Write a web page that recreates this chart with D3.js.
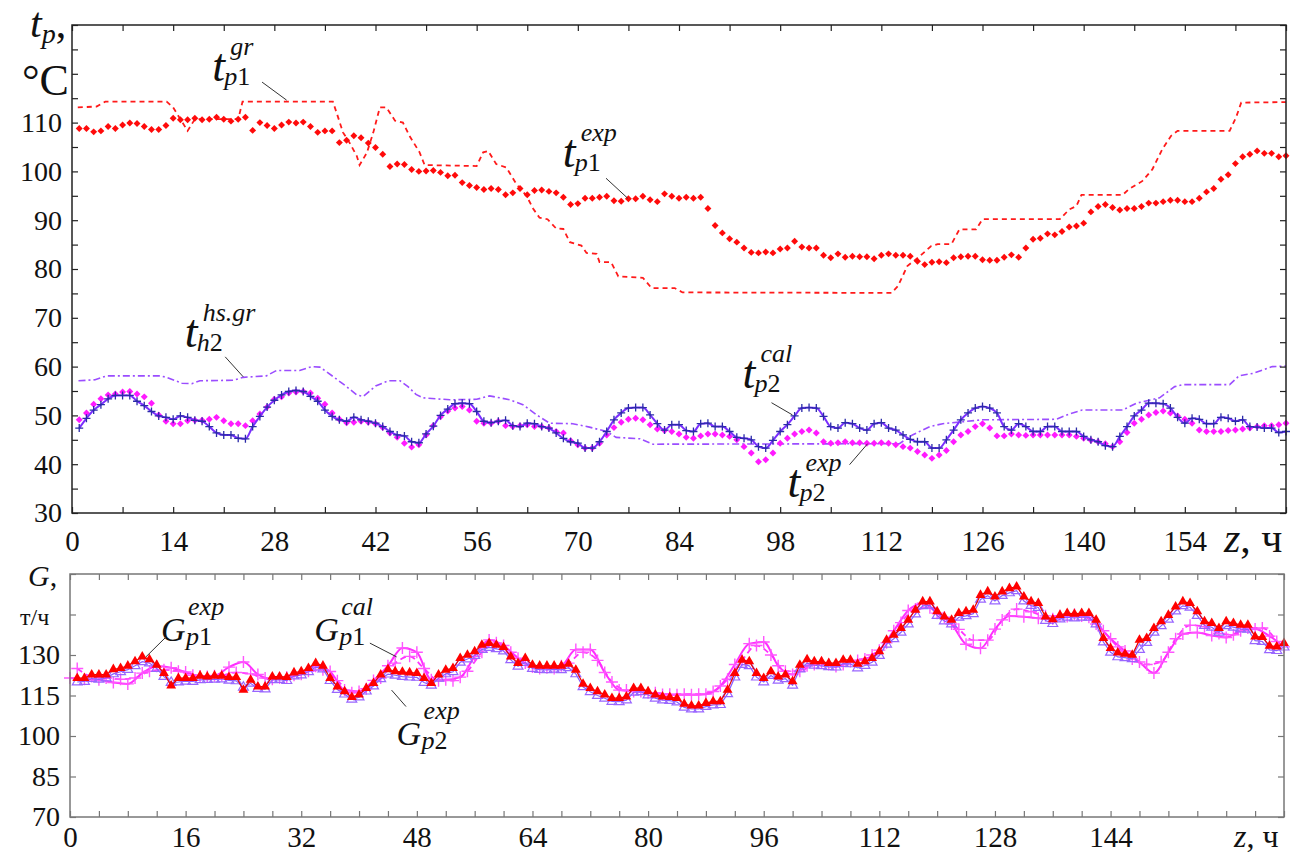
<!DOCTYPE html>
<html>
<head>
<meta charset="utf-8">
<script src="https://cdn.jsdelivr.net/npm/d3@7"></script>
<style>
  body { margin: 0; background: #fff; }
  svg { display: block; }
  svg text { font-family: 'Liberation Serif', 'DejaVu Serif', serif; }
</style>
</head>
<body>
<svg id="chart" width="1295" height="854"></svg>
<script>
/* global d3 */

// ---------- data: top panel (temperatures, degC), hourly h = 1..168 ----------
const expHours = d3.range(1, 169);

const tp1Exp = [
  108.8, 108.8, 108.1, 108.3, 109.2, 108.8, 109.5, 109.9, 109.8, 109.2,
  108.6, 108.6, 109.4, 110.9, 110.6, 110.6, 110.9, 110.6, 110.7, 111.1,
  110.7, 110.3, 110.7, 111.1, 108.4, 110.0, 109.4, 108.8, 109.5, 110.1,
  109.9, 110.1, 109.2, 108.0, 108.3, 108.3, 105.9, 106.4, 107.3, 106.9,
  105.8, 104.9, 103.5, 101.0, 101.5, 101.4, 100.4, 100.0, 100.1, 100.2,
  99.8, 99.1, 99.2, 97.7, 97.1, 96.7, 96.3, 96.5, 96.3, 95.2,
  95.6, 96.5, 95.2, 96.1, 96.2, 95.9, 95.6, 94.7, 93.2, 93.4,
  94.5, 94.5, 94.7, 94.9, 94.0, 93.9, 94.4, 94.4, 94.9, 94.2,
  93.8, 95.4, 94.9, 94.5, 94.7, 94.5, 94.7, 92.4, 88.9, 87.4,
  86.2, 85.5, 84.3, 83.4, 83.3, 83.5, 83.3, 84.1, 84.3, 85.7,
  84.5, 84.3, 84.3, 82.8, 82.3, 83.1, 82.4, 82.6, 82.5, 82.5,
  82.1, 82.8, 83.1, 82.8, 82.8, 82.6, 81.6, 80.9, 81.4, 81.5,
  81.3, 82.3, 82.5, 82.6, 82.6, 81.9, 81.8, 81.8, 82.4, 82.9,
  82.4, 84.3, 86.1, 86.3, 87.2, 87.0, 87.7, 88.6, 88.8, 89.4,
  91.7, 92.8, 93.2, 92.6, 92.1, 92.4, 92.4, 92.8, 93.5, 93.5,
  93.8, 94.1, 94.1, 93.8, 93.8, 94.5, 95.8, 96.5, 98.4, 99.3,
  101.6, 103.0, 103.5, 104.2, 103.7, 103.7, 103.0, 103.2
];

const tp2Exp = [
  49.1, 50.5, 52.3, 53.4, 54.2, 54.4, 54.8, 54.9, 54.4, 53.8,
  52.5, 50.1, 48.8, 48.3, 48.3, 48.9, 49.0, 49.0, 49.2, 49.6,
  48.9, 48.3, 48.3, 47.9, 48.9, 50.3, 51.7, 53.3, 53.8, 54.6,
  54.8, 54.9, 54.6, 53.5, 52.3, 50.5, 49.2, 48.5, 48.6, 48.8,
  48.6, 48.3, 47.5, 46.4, 45.5, 44.3, 43.5, 44.0, 46.0, 47.9,
  49.7, 50.9, 51.5, 51.8, 51.1, 48.8, 48.4, 48.4, 48.8, 47.9,
  47.7, 47.9, 48.1, 47.7, 47.7, 47.4, 46.7, 46.4, 44.8, 44.0,
  43.3, 43.3, 44.3, 46.0, 47.5, 48.6, 49.2, 49.4, 49.1, 48.1,
  47.2, 46.9, 46.7, 46.2, 45.5, 45.3, 45.8, 46.2, 46.2, 46.0,
  45.7, 45.0, 43.6, 42.3, 40.5, 40.9, 42.3, 44.3, 45.3, 46.2,
  46.7, 47.0, 46.4, 44.6, 44.3, 44.4, 44.6, 44.4, 44.4, 44.3,
  44.3, 44.4, 44.3, 44.0, 43.6, 43.3, 42.6, 41.9, 41.2, 41.9,
  42.8, 44.6, 46.0, 46.7, 47.7, 48.3, 47.4, 45.8, 45.8, 46.2,
  46.0, 45.9, 46.0, 46.0, 46.0, 46.0, 46.0, 46.0, 45.7, 45.3,
  44.9, 44.6, 44.2, 43.6, 44.6, 46.5, 48.4, 49.2, 50.1, 50.6,
  50.9, 50.5, 49.9, 49.2, 48.4, 47.0, 46.7, 46.7, 46.7, 46.9,
  47.0, 47.2, 47.4, 47.7, 47.9, 47.9, 48.1, 48.4
];

const tp2Cal = [
  47.4, 49.4, 51.1, 52.2, 53.4, 54.1, 54.1, 54.1, 52.9, 52.0,
  50.8, 49.9, 49.6, 49.2, 49.9, 49.6, 49.0, 48.8, 47.7, 46.4,
  46.0, 46.0, 45.3, 45.2, 47.7, 49.8, 51.7, 53.1, 54.2, 54.9,
  55.1, 54.9, 53.9, 52.9, 51.1, 49.8, 49.1, 48.8, 49.6, 49.1,
  48.8, 48.4, 47.7, 46.7, 46.0, 45.8, 44.6, 44.4, 46.2, 47.8,
  50.0, 51.3, 52.4, 52.5, 52.4, 50.8, 48.8, 48.5, 48.8, 49.0,
  47.9, 47.7, 48.4, 48.3, 47.7, 47.4, 46.4, 45.3, 44.6, 44.3,
  43.3, 43.3, 44.6, 46.7, 49.1, 50.5, 51.5, 51.6, 51.6, 50.1,
  48.3, 47.0, 48.1, 48.1, 46.9, 46.7, 48.3, 48.4, 47.7, 47.7,
  46.7, 45.5, 45.3, 45.0, 43.6, 43.3, 44.9, 46.7, 48.1, 49.9,
  51.5, 51.6, 51.5, 49.8, 47.7, 47.4, 48.5, 48.3, 47.4, 47.0,
  48.3, 48.5, 47.4, 47.0, 46.0, 45.1, 44.6, 44.6, 43.3, 43.3,
  45.0, 47.0, 49.1, 50.5, 51.5, 51.8, 51.5, 50.5, 47.7, 47.0,
  48.3, 47.7, 46.7, 46.7, 47.7, 47.7, 46.7, 46.7, 46.7, 45.7,
  45.0, 44.6, 43.8, 43.6, 45.7, 47.7, 49.9, 51.1, 52.5, 52.5,
  52.4, 51.5, 49.6, 48.4, 49.4, 49.2, 48.3, 48.3, 49.6, 49.4,
  48.8, 49.1, 47.7, 47.6, 47.4, 47.4, 46.5, 46.7
];

// schedule curve t_p1^gr (break points)
const grHours = [0.8, 3.4, 4.6, 13.1, 14, 15, 16, 17, 23, 23.6, 36.1, 36.6, 37.5, 38.4, 39.4, 39.8,
  40.8, 41.7, 42.6, 43.5, 44.7, 45.8, 46.7, 48.1, 48.8, 56, 56.9, 57.6, 58.7, 60.1, 61.5, 62.9,
  63.8, 64.7, 65.8, 67, 68, 68.9, 70.5, 71.2, 72.6, 73, 74.6, 75.6, 79, 80.2, 83.4, 84.5, 113.4,
  114.3, 115.6, 117.3, 118.9, 119.8, 121.7, 122.8, 125.1, 126, 136.7, 138, 139, 139.7, 145.4,
  146.3, 148.1, 149.5, 150.9, 152.1, 153, 160.2, 161.1, 161.8, 168];
const grValues = [113.1, 113.3, 114.3, 114.3, 113.1, 110.7, 108.3, 110.7, 110.7, 114.3, 114.3, 112.1,
  108.0, 105.9, 103.2, 101.3, 103.8, 108.0, 113.1, 113.1, 110.4, 110.0, 107.3, 103.9, 101.3, 101.1,
  103.9, 104.2, 101.5, 100.8, 97.4, 95.0, 92.4, 90.5, 90.2, 88.3, 88.2, 85.5, 84.8, 83.3, 83.1,
  81.4, 81.4, 78.5, 78.2, 76.1, 76.1, 75.2, 75.1, 76.5, 80.6, 82.6, 84.7, 85.1, 85.1, 88.1, 88.1,
  90.2, 90.2, 92.2, 92.9, 95.2, 95.2, 96.4, 98.0, 100.4, 104.6, 107.3, 108.3, 108.3, 111.1, 114.1,
  114.2];

// schedule curve t_h2^hs.gr (break points)
const hsHours = [0.9, 3.2, 4.8, 12.2, 13.1, 15.2, 16.6, 17.7, 22.3, 23.7, 26.9, 28.3, 31.5, 33.2,
  34.3, 36.1, 38, 39.4, 40.3, 42.1, 43.8, 45.4, 46.5, 47.6, 48.6, 52.3, 56, 57.8, 60.6, 62.4, 64.3,
  66.1, 69.3, 71.6, 74, 75.3, 78.6, 80.4, 114.5, 116.3, 118.7, 120.5, 126, 136.2, 138, 139.8,
  145.4, 147.3, 150.5, 152.6, 153.7, 160.2, 161.5, 163.4, 166.1, 168];
const hsValues = [57.1, 57.3, 58.1, 58.1, 57.8, 56.6, 56.5, 57.1, 57.2, 57.8, 58.1, 59.2, 59.2, 60.0,
  59.9, 58.0, 55.9, 54.2, 53.9, 56.1, 57.1, 57.1, 55.9, 54.3, 53.6, 53.2, 53.3, 54.0, 53.2, 52.2,
  50.1, 48.4, 48.3, 47.6, 46.7, 45.5, 45.2, 44.1, 44.2, 46.0, 47.7, 48.3, 49.1, 49.2, 50.3, 51.1,
  51.1, 52.5, 53.6, 55.9, 56.3, 56.3, 58.1, 58.6, 60.0, 60.1];

// ---------- data: bottom panel (flow, t/h) ----------
const gp1Exp = [
  121.4, 121.4, 122.7, 122.7, 122.7, 124.7, 125.1, 126.0, 127.6, 129.4,
  128.4, 126.3, 123.3, 118.6, 121.4, 121.4, 121.4, 122.3, 122.0, 122.3,
  122.3, 121.8, 121.8, 117.1, 120.8, 118.3, 118.3, 122.0, 122.0, 121.8,
  123.5, 123.9, 125.1, 127.0, 126.0, 121.4, 118.3, 116.5, 114.4, 115.3,
  117.7, 119.6, 122.7, 124.7, 123.9, 123.7, 123.5, 123.3, 121.4, 119.6,
  122.7, 124.5, 125.1, 128.8, 130.0, 131.3, 133.7, 134.4, 133.7, 132.9,
  129.4, 127.0, 128.8, 126.3, 126.0, 126.0, 126.0, 126.0, 126.7, 124.5,
  119.3, 117.7, 116.5, 115.3, 114.0, 114.0, 114.6, 117.7, 117.7, 116.5,
  115.3, 114.6, 114.4, 114.0, 111.9, 111.2, 111.2, 112.2, 112.8, 112.8,
  117.1, 123.3, 128.2, 127.6, 123.3, 121.4, 123.9, 122.0, 122.7, 120.2,
  126.3, 128.4, 127.6, 127.6, 127.0, 127.0, 128.2, 128.2, 126.7, 127.6,
  128.8, 131.3, 135.6, 137.4, 139.9, 143.0, 146.7, 149.8, 149.8, 146.1,
  144.2, 143.0, 145.5, 146.1, 146.7, 152.2, 153.5, 151.6, 153.5, 154.7,
  155.3, 151.6, 149.8, 149.2, 144.2, 143.2, 144.8, 145.5, 145.2, 145.5,
  145.5, 143.0, 136.2, 132.5, 130.9, 130.4, 130.0, 135.6, 136.2, 139.9,
  142.4, 144.8, 147.9, 149.8, 149.2, 146.1, 142.4, 141.8, 139.9, 142.4,
  141.8, 141.1, 141.1, 136.8, 136.6, 133.4, 133.1, 134.4
];

const gp2Exp = [
  120.0, 120.2, 121.3, 121.0, 121.5, 123.0, 123.8, 124.6, 126.0, 127.5,
  127.0, 125.0, 122.0, 119.8, 120.0, 120.3, 120.2, 120.8, 120.9, 121.0,
  121.1, 120.6, 120.4, 118.0, 119.5, 117.6, 117.4, 120.8, 120.9, 120.5,
  122.2, 122.6, 123.8, 125.5, 124.8, 120.5, 117.2, 115.5, 113.6, 114.4,
  116.6, 118.5, 121.2, 122.9, 122.5, 122.0, 121.8, 121.7, 119.8, 118.8,
  121.4, 123.0, 123.8, 127.3, 128.5, 129.8, 132.0, 132.8, 132.3, 131.5,
  128.2, 125.8, 127.2, 125.0, 124.6, 124.5, 124.7, 124.5, 125.3, 123.0,
  118.2, 116.4, 115.0, 114.0, 112.8, 112.7, 113.3, 116.2, 116.4, 115.2,
  114.0, 113.3, 113.1, 112.6, 110.6, 110.0, 110.0, 110.9, 111.5, 111.6,
  115.6, 121.8, 126.5, 126.0, 121.8, 120.0, 122.4, 120.6, 121.2, 118.8,
  124.8, 127.0, 126.2, 126.0, 125.6, 125.5, 126.8, 126.7, 125.2, 126.1,
  127.3, 129.8, 134.0, 136.0, 138.4, 141.5, 145.2, 148.2, 148.4, 144.6,
  142.6, 141.5, 144.0, 144.5, 145.3, 150.6, 152.0, 150.0, 152.0, 153.0,
  153.8, 150.0, 148.3, 147.6, 142.8, 141.6, 143.3, 144.0, 143.7, 144.0,
  144.0, 141.5, 134.8, 131.0, 129.3, 129.0, 128.6, 132.0, 134.6, 138.4,
  140.8, 143.2, 146.3, 148.2, 147.7, 144.6, 140.9, 140.3, 138.4, 140.8,
  140.3, 139.6, 139.5, 135.3, 135.0, 131.9, 131.6, 132.9
];

// calculated flows, read every 2 hours
const calEvenHours = d3.range(0, 169, 2);
const gp1Cal = [
  121.5, 121.0, 120.8, 119.8, 119.3, 123.3, 125.8, 125.3, 123.7, 122.2,
  122.3, 125.5, 127.4, 122.8, 121.0, 121.8, 122.9, 125.8, 123.9, 117.0,
  116.5, 120.6, 126.0, 132.6, 131.0, 120.8, 120.8, 121.8, 129.5, 135.6,
  133.5, 128.8, 125.6, 125.3, 126.0, 132.0, 132.0, 123.5, 117.0, 116.5,
  116.0, 115.4, 115.3, 115.3, 115.5, 118.5, 126.5, 134.2, 134.8, 126.0,
  122.8, 126.0, 127.0, 125.7, 127.6, 128.5, 131.8, 139.0, 146.5, 149.2,
  145.5, 141.5, 134.0, 132.5, 139.6, 144.4, 144.2, 143.6, 143.4, 144.3,
  144.4, 141.5, 136.0, 131.5, 127.4, 123.3, 131.0, 137.8, 138.3, 137.2,
  136.5, 139.0, 139.6, 137.0, 133.0
];
const calOddHours = d3.range(1, 168, 2);
const gp2Cal = [
  125.0, 122.0, 121.5, 121.0, 121.5, 124.0, 124.5, 124.0, 122.5, 122.0,
  122.5, 123.5, 123.0, 121.5, 121.5, 122.5, 124.0, 124.5, 120.5, 116.0,
  117.5, 121.5, 127.0, 129.5, 125.0, 120.5, 120.5, 124.0, 131.0, 134.5,
  131.0, 127.0, 125.0, 125.0, 127.0, 131.0, 128.0, 120.0, 117.0, 116.5,
  116.0, 115.5, 115.5, 115.5, 116.5, 121.0, 128.0, 133.5, 130.0, 124.0,
  124.0, 126.5, 126.5, 126.5, 128.0, 130.0, 134.5, 142.0, 147.0, 147.5,
  144.0, 139.5, 135.5, 135.5, 143.0, 147.0, 146.0, 144.5, 144.5, 145.0,
  144.0, 139.0, 133.0, 128.5, 126.5, 127.5, 136.0, 141.0, 140.5, 138.0,
  137.5, 140.0, 140.0, 135.0
];

// ---------- ticks ----------
const topXTicks = d3.range(0, 169, 7);
const topXLabels = d3.range(0, 155, 14);
const topYTicks = d3.range(30, 131, 5);
const topYLabels = d3.range(30, 111, 10);
const botXTicks = d3.range(0, 169, 4);
const botXLabels = d3.range(0, 145, 16);
const botYTicks = d3.range(70, 161, 15);
const botYLabels = [70, 85, 100, 115, 130];

// ---------- drawing ----------
const svg = d3.select('#chart');

const xT = d3.scaleLinear().domain([0, 168]).range([72, 1286]);
const yT = d3.scaleLinear().domain([30, 130]).range([513, 25]);
const xB = d3.scaleLinear().domain([0, 168]).range([70, 1284]);
const yB = d3.scaleLinear().domain([70, 160]).range([817, 574]);

const zip = (xs, ys) => xs.map((h, i) => [h, ys[i]]);

const drawAxes = (x, y, o) => {
  const [x0, x1] = x.range();
  const [y0, y1] = y.range();
  const style = size => sel => {
    sel.attr('font-family', null);
    sel.select('.domain').remove();
    sel.selectAll('.tick line').attr('stroke', o.color).attr('stroke-width', 1.2);
    sel.selectAll('text').attr('font-size', size).attr('fill', '#111');
  };
  svg.append('g').attr('transform', `translate(0,${y0})`)
    .call(d3.axisBottom(x).tickValues(o.xTicks).tickSize(-6).tickPadding(o.xPad)
      .tickFormat(d => (o.xLabels.includes(d) ? d : '')))
    .call(style(o.xFont));
  svg.append('g').attr('transform', `translate(0,${y1})`)
    .call(d3.axisTop(x).tickValues(o.xTicks).tickSize(-6).tickFormat(''))
    .call(style(o.xFont));
  svg.append('g').attr('transform', `translate(${x0},0)`)
    .call(d3.axisLeft(y).tickValues(o.yTicks).tickSize(-6).tickPadding(10)
      .tickFormat(d => (o.yLabels.includes(d) ? d : '')))
    .call(style(o.yFont));
  svg.append('g').attr('transform', `translate(${x1},0)`)
    .call(d3.axisRight(y).tickValues(o.yTicks).tickSize(-6).tickFormat(''))
    .call(style(o.yFont));
  svg.append('rect')
    .attr('x', x0).attr('y', y1).attr('width', x1 - x0).attr('height', y0 - y1)
    .attr('fill', 'none').attr('stroke', o.color).attr('stroke-width', 1.5);
};

const plus = s => `M${-s},0H${s}M0,${-s}V${s}`;

/* TOP PANEL */
const lineT = d3.line().x(d => xT(d[0])).y(d => yT(d[1]));
const lineTs = d3.line().x(d => xT(d[0])).y(d => yT(d[1])).curve(d3.curveMonotoneX);
const topG = svg.append('g');

topG.append('path').datum(zip(grHours, grValues))
  .attr('d', lineT).attr('fill', 'none')
  .attr('stroke', '#ff1a1a').attr('stroke-width', 1.8).attr('stroke-dasharray', '5,4');

topG.append('path').datum(zip(hsHours, hsValues))
  .attr('d', lineT).attr('fill', 'none')
  .attr('stroke', '#9b4dff').attr('stroke-width', 1.6).attr('stroke-dasharray', '7,3,2,3');

const diamond = d3.symbol(d3.symbolSquare, 24)();

topG.append('g').selectAll('path')
  .data(zip(expHours, tp2Exp)).join('path')
  .attr('d', diamond).attr('fill', '#ff1aff')
  .attr('transform', d => `translate(${xT(d[0])},${yT(d[1])}) rotate(45)`);

topG.append('path').datum(zip(expHours, tp2Cal))
  .attr('d', lineTs).attr('fill', 'none')
  .attr('stroke', '#7a2eff').attr('stroke-width', 2);

topG.append('g').selectAll('path')
  .data(zip(expHours, tp2Cal)).join('path')
  .attr('d', plus(4)).attr('stroke', '#2b2ba8').attr('stroke-width', 1.3)
  .attr('transform', d => `translate(${xT(d[0])},${yT(d[1])})`);

topG.append('g').selectAll('path')
  .data(zip(expHours, tp1Exp)).join('path')
  .attr('d', diamond).attr('fill', '#ff0a0a')
  .attr('transform', d => `translate(${xT(d[0])},${yT(d[1])}) rotate(45)`);

drawAxes(xT, yT, {
  xTicks: topXTicks, xLabels: topXLabels, yTicks: topYTicks, yLabels: topYLabels,
  color: '#222', xFont: 29, yFont: 28, xPad: 17,
});

/* BOTTOM PANEL */
const lineB = d3.line().x(d => xB(d[0])).y(d => yB(d[1])).curve(d3.curveMonotoneX);
const botG = svg.append('g');

botG.append('path').datum(zip(calOddHours, gp2Cal))
  .attr('d', lineB).attr('fill', 'none')
  .attr('stroke', '#ff33ff').attr('stroke-width', 1.8).attr('stroke-dasharray', '6,4');
botG.append('path').datum(zip(calEvenHours, gp1Cal))
  .attr('d', lineB).attr('fill', 'none')
  .attr('stroke', '#ff2eff').attr('stroke-width', 2);

botG.append('g').selectAll('path')
  .data(zip(calEvenHours, gp1Cal).concat(zip(calOddHours, gp2Cal))).join('path')
  .attr('d', plus(6)).attr('stroke', '#ff55ff').attr('stroke-width', 1.4)
  .attr('transform', d => `translate(${xB(d[0])},${yB(d[1])})`);

const lineBL = d3.line().x(d => xB(d[0])).y(d => yB(d[1]));
const tri = d3.symbol(d3.symbolTriangle, 42)();

botG.append('path').datum(zip(expHours, gp2Exp))
  .attr('d', lineBL).attr('fill', 'none').attr('stroke', '#8a5cff').attr('stroke-width', 1.2);
botG.append('g').selectAll('path')
  .data(zip(expHours, gp2Exp)).join('path')
  .attr('d', tri).attr('fill', 'none').attr('stroke', '#9966ff').attr('stroke-width', 1.2)
  .attr('transform', d => `translate(${xB(d[0])},${yB(d[1])})`);

botG.append('path').datum(zip(expHours, gp1Exp))
  .attr('d', lineBL).attr('fill', 'none').attr('stroke', '#e60000').attr('stroke-width', 1.2);
botG.append('g').selectAll('path')
  .data(zip(expHours, gp1Exp)).join('path')
  .attr('d', tri).attr('fill', '#ff0000')
  .attr('transform', d => `translate(${xB(d[0])},${yB(d[1])})`);

drawAxes(xB, yB, {
  xTicks: botXTicks, xLabels: botXLabels, yTicks: botYTicks, yLabels: botYLabels,
  color: '#777', xFont: 29, yFont: 28, xPad: 9,
});

/* LABELS */
const notes = svg.append('g').attr('fill', '#111');

const mathLabel = (px, py, base, sub, sup, o) => {
  notes.append('text').attr('x', px).attr('y', py)
    .attr('font-size', o.size).attr('font-style', 'italic').text(base);
  const s = notes.append('text').attr('x', px + o.subDx).attr('y', py + 4).attr('font-size', 26);
  sub.split('').forEach(c => {
    s.append('tspan').attr('font-style', /\d/.test(c) ? 'normal' : 'italic').text(c);
  });
  notes.append('text').attr('x', px + o.supDx).attr('y', py - 26)
    .attr('font-size', 26).attr('font-style', 'italic').text(sup);
};

const leader = (x, y, a, b) => {
  notes.append('line')
    .attr('x1', x(a[0])).attr('y1', y(a[1])).attr('x2', x(b[0])).attr('y2', y(b[1]))
    .attr('stroke', '#333').attr('stroke-width', 1);
};

const tStyle = { size: 46, subDx: 12, supDx: 18 };
const gStyle = { size: 34, subDx: 25, supDx: 27 };

[
  { at: [19.4, 118.5], sub: 'p1', sup: 'gr', lead: [[26.3, 118.3], [29.7, 114.6]] },
  { at: [67.9, 100.8], sub: 'p1', sup: 'exp', lead: [[73.9, 98.6], [76.9, 94.5]] },
  { at: [15.6, 64.1], sub: 'h2', sup: 'hs.gr', lead: [[21.2, 62.0], [23.7, 57.9]] },
  { at: [92.8, 55.7], sub: 'p2', sup: 'cal', lead: [[96.8, 52.6], [99.7, 50.1]] },
  { at: [99.0, 33.3], sub: 'p2', sup: 'exp', lead: [[107.6, 39.9], [110.1, 44.2]] },
].forEach(n => {
  mathLabel(xT(n.at[0]), yT(n.at[1]), 't', n.sub, n.sup, tStyle);
  leader(xT, yT, n.lead[0], n.lead[1]);
});

[
  { at: [12.6, 135.2], sub: 'p1', sup: 'exp', lead: [[13.3, 136.7], [10.5, 129.3]] },
  { at: [33.8, 135.2], sub: 'p1', sup: 'cal', lead: [[41.5, 134.4], [45.2, 129.3]] },
  { at: [45.2, 96.7], sub: 'p2', sup: 'exp', lead: [[44.5, 117.0], [46.5, 110.9]] },
].forEach(n => {
  mathLabel(xB(n.at[0]), yB(n.at[1]), 'G', n.sub, n.sup, gStyle);
  leader(xB, yB, n.lead[0], n.lead[1]);
});

// axis titles
const yTitle = notes.append('text').attr('x', 30).attr('y', 37).attr('font-size', 42);
yTitle.append('tspan').attr('font-style', 'italic').text('t');
yTitle.append('tspan').attr('font-style', 'italic').attr('font-size', 28).attr('dy', 6).text('p');
yTitle.append('tspan').attr('dy', -6).text(',');
notes.append('text').attr('x', 22).attr('y', 95).attr('font-size', 44).text('°C');

const gTitle = notes.append('text').attr('x', 28).attr('y', 586).attr('font-size', 30);
gTitle.append('tspan').attr('font-style', 'italic').text('G');
gTitle.append('tspan').text(',');
notes.append('text').attr('x', 20).attr('y', 625).attr('font-size', 24).text('т/ч');

const zTop = notes.append('text').attr('x', 1224).attr('y', 552).attr('font-size', 42);
zTop.append('tspan').attr('font-style', 'italic').text('z');
zTop.append('tspan').text(', ч');

const zBot = notes.append('text').attr('x', 1234).attr('y', 847).attr('font-size', 32);
zBot.append('tspan').attr('font-style', 'italic').text('z');
zBot.append('tspan').text(', ч');
</script>
</body>
</html>
